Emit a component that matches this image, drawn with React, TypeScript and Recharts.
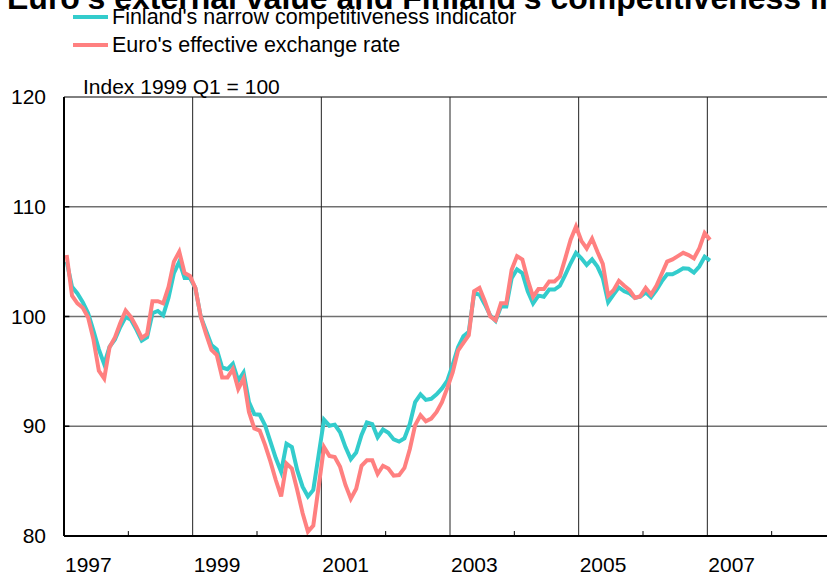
import { LineChart, Line, XAxis, YAxis, ReferenceLine, Legend } from 'recharts'

const FONT = "'Liberation Sans', Arial, sans-serif"

// monthly observations, Jan 1997 .. Jan 2007 (index 1999 Q1 = 100)
const finland = [
  105.0, 102.7, 102.1, 101.3, 100.3, 98.7, 97.0, 95.65, 97.25, 97.9, 99.05, 99.95,
  99.7, 98.8, 97.8, 98.1, 100.3, 100.5, 100.1, 101.7, 103.95, 105.0, 103.5, 103.5,
  102.6, 100.0, 98.7, 97.4, 97.0, 95.35, 95.2, 95.7, 94.15, 94.9, 92.2, 91.1,
  91.05, 90.1, 88.6, 87.1, 85.85, 88.4, 88.1, 86.0, 84.5, 83.6, 84.2, 87.4,
  90.6, 90.05, 90.15, 89.45, 88.1, 87.0, 87.6, 89.2, 90.35, 90.2, 89.0, 89.7,
  89.4, 88.8, 88.6, 88.9, 90.2, 92.2, 92.9, 92.4, 92.5, 92.9, 93.45, 94.15,
  95.6, 97.2, 98.2, 98.6, 102.1, 102.0, 101.1, 100.1, 99.6, 100.9, 100.9, 103.5,
  104.3, 103.95, 102.3, 101.2, 101.9, 101.8, 102.45, 102.45, 102.8, 103.8, 104.85, 105.8,
  105.3, 104.7, 105.2, 104.55, 103.5, 101.3, 102.0, 102.65, 102.3, 102.1, 101.7, 101.8,
  102.2, 101.75, 102.4, 103.2, 103.85, 103.85, 104.1, 104.4, 104.35, 104.0, 104.55, 105.45,
  105.1,
]

const euro = [
  105.6, 101.9, 101.2, 100.8, 99.9, 97.9, 95.05, 94.35, 97.2, 98.1, 99.4, 100.55,
  99.95, 99.05, 98.05, 98.4, 101.4, 101.4, 101.2, 102.7, 105.0, 105.9, 103.95, 103.7,
  102.6, 100.0, 98.4, 96.95, 96.5, 94.45, 94.45, 95.2, 93.4, 94.35, 91.3, 89.8,
  89.6, 88.3, 86.8, 85.1, 83.6, 86.6, 86.15, 84.2, 82.1, 80.4, 80.95, 84.5,
  88.1, 87.3, 87.2, 86.3, 84.65, 83.4, 84.3, 86.4, 86.9, 86.9, 85.65, 86.4,
  86.15, 85.5, 85.55, 86.2, 87.9, 90.1, 91.0, 90.45, 90.7, 91.3, 92.2, 93.5,
  94.9, 96.9, 97.6, 98.3, 102.3, 102.6, 101.4, 100.0, 99.65, 101.2, 101.2, 104.25,
  105.5, 105.2, 103.35, 101.8, 102.5, 102.5, 103.2, 103.2, 103.65, 105.3, 107.0, 108.2,
  106.9, 106.2, 107.1, 105.9, 104.8, 101.9, 102.4, 103.25, 102.8, 102.4, 101.7, 101.85,
  102.6, 102.0, 102.8, 103.9, 105.0, 105.2, 105.5, 105.8, 105.6, 105.3, 106.2, 107.6,
  107.0,
]

const seriesNames = ["Finland's narrow competitiveness indicator", "Euro's effective exchange rate"]

// x axis in months since Jan 1997
const yearTicks = [0, 24, 48, 72, 96, 120]
const yearLabels = ['1997', '1999', '2001', '2003', '2005', '2007']
const minorTicks = [12, 36, 60, 84, 108, 132]
const yTicks = [80, 90, 100, 110, 120]
const gridY = [90, 100, 110]

const data = finland.map((v, i) => ({ t: i + 0.5, finland: v, euro: euro[i] }))

function YearTick({ x, y, payload }: any) {
  const idx = yearTicks.indexOf(payload.value)
  return (
    <text x={x + 1} y={y + 36} textAnchor="start" fontSize={21} fontFamily={FONT} fill="#000">
      {yearLabels[idx]}
    </text>
  )
}

function ValueTick({ x, y, payload }: any) {
  return (
    <text x={x - 18} y={y + 7} textAnchor="end" fontSize={21} fontFamily={FONT} fill="#000">
      {payload.value}
    </text>
  )
}

function LegendBox({ payload }: any) {
  const items = [...(payload ?? [])].sort(
    (a: any, b: any) => seriesNames.indexOf(a.value) - seriesNames.indexOf(b.value),
  )
  return (
    <div style={{ fontFamily: FONT, fontSize: 21.5, color: '#000' }}>
      {items.map((p: any) => (
        <div key={p.value} style={{ display: 'flex', alignItems: 'center', height: 28, whiteSpace: 'nowrap' }}>
          <span style={{ display: 'inline-block', width: 35, height: 4, background: p.color, marginRight: 4 }} />
          <span>{p.value}</span>
        </div>
      ))}
    </div>
  )
}

export default function App() {
  return (
    <div style={{ position: 'fixed', left: 0, top: 0, width: 827, height: 576, overflow: 'hidden', background: '#fff' }}>
      <LineChart width={860} height={576} data={data} margin={{ top: 97, right: 24, bottom: 0, left: 0 }}>
        {gridY.map((v) => (
          <ReferenceLine key={'h' + v} y={v} stroke="#707070" strokeWidth={1.5} />
        ))}
        <ReferenceLine y={120} stroke="#000" strokeWidth={1} />
        {yearTicks.slice(1).map((m) => (
          <ReferenceLine key={'v' + m} x={m} stroke="#222" strokeWidth={1} />
        ))}
        {minorTicks.map((m) => (
          <ReferenceLine key={'m' + m} segment={[{ x: m, y: 80 }, { x: m, y: 80.45 }]} stroke="#000" strokeWidth={1} />
        ))}
        {gridY.map((v) => (
          <ReferenceLine key={'t' + v} segment={[{ x: 0, y: v }, { x: 1, y: v }]} stroke="#000" strokeWidth={1.5} />
        ))}
        <XAxis
          type="number"
          dataKey="t"
          domain={[0, 144]}
          ticks={yearTicks}
          height={40}
          tickSize={0}
          tickMargin={0}
          tickLine={false}
          axisLine={{ stroke: '#000', strokeWidth: 2 }}
          tick={<YearTick />}
          interval={0}
        />
        <YAxis
          domain={[80, 120]}
          ticks={yTicks}
          width={64}
          tickSize={0}
          tickMargin={0}
          tickLine={false}
          axisLine={{ stroke: '#000', strokeWidth: 2 }}
          tick={<ValueTick />}
          interval={0}
        />
        <Legend
          layout="vertical"
          align="center"
          verticalAlign="middle"
          content={<LegendBox />}
          wrapperStyle={{ top: 3, left: 73, width: 'auto' }}
        />
        <Line
          type="linear"
          dataKey="finland"
          name={seriesNames[0]}
          stroke="#33CCCC"
          strokeWidth={4}
          dot={false}
          isAnimationActive={false}
        />
        <Line
          type="linear"
          dataKey="euro"
          name={seriesNames[1]}
          stroke="#FF8080"
          strokeWidth={4}
          dot={false}
          isAnimationActive={false}
        />
      </LineChart>
      <svg width={827} height={576} style={{ position: 'absolute', left: 0, top: 0, pointerEvents: 'none' }}>
        <text x={7} y={9} fontSize={32} fontWeight="bold" fontFamily={FONT} fill="#000">
          Euro's external value and Finland's competitiveness indicator
        </text>
        <text x={83} y={94} fontSize={21} fontFamily={FONT} fill="#000">
          Index 1999 Q1 = 100
        </text>
      </svg>
    </div>
  )
}
